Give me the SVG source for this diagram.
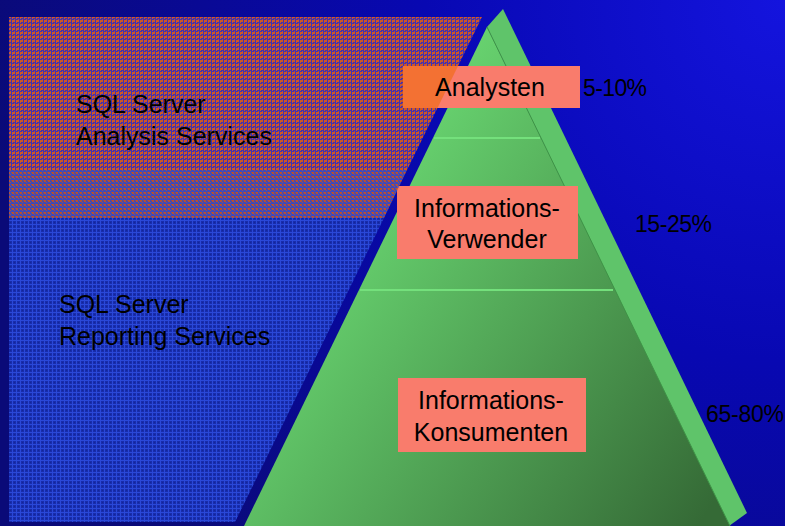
<svg xmlns="http://www.w3.org/2000/svg" width="785" height="526" viewBox="0 0 785 526">
<defs>
<radialGradient id="bg" cx="785" cy="0" r="800" gradientUnits="userSpaceOnUse">
<stop offset="0" stop-color="#1414de"/>
<stop offset="0.45" stop-color="#0808b2"/>
<stop offset="1" stop-color="#0a0a78"/>
</radialGradient>
<linearGradient id="front" x1="330" y1="200" x2="730" y2="480" gradientUnits="userSpaceOnUse">
<stop offset="0" stop-color="#6ad872"/>
<stop offset="1" stop-color="#356a36"/>
</linearGradient>
<pattern id="pOr" width="4" height="4" patternUnits="userSpaceOnUse">
<rect width="4" height="4" fill="#4430b0" shape-rendering="crispEdges"/>
<rect width="3" height="2" fill="#cc5628" shape-rendering="crispEdges"/>
<rect y="2" width="1" height="1" fill="#cc5628" shape-rendering="crispEdges"/>
<rect x="2" y="3" width="1" height="1" fill="#b85030" shape-rendering="crispEdges"/>
</pattern>
<pattern id="pMix" width="4" height="4" patternUnits="userSpaceOnUse">
<rect width="4" height="4" fill="#4450c0" shape-rendering="crispEdges"/>
<rect width="2" height="2" fill="#c8582c" shape-rendering="crispEdges"/>
<rect x="2" y="2" width="1" height="1" fill="#c0582e" shape-rendering="crispEdges"/>
<rect x="3" y="0" width="1" height="1" fill="#b05440" shape-rendering="crispEdges"/>
</pattern>
<pattern id="pBl" width="4" height="4" patternUnits="userSpaceOnUse">
<rect width="4" height="4" fill="#182cac" shape-rendering="crispEdges"/>
<rect width="4" height="1" fill="#2a48d8" shape-rendering="crispEdges"/>
<rect width="1" height="4" fill="#2a48d8" shape-rendering="crispEdges"/>
<rect x="2" y="2" width="1" height="1" fill="#12269a" shape-rendering="crispEdges"/>
</pattern>
<style>
.lbl{font-family:"Liberation Sans",Arial,sans-serif;font-size:25px;fill:#000}
.box{fill:#f97c6c}
.pct{font-family:"Liberation Sans",Arial,sans-serif;font-size:23px;fill:#000}
</style>
</defs>
<rect id="background" width="785" height="526" fill="url(#bg)"/>
<g id="pyramid">
<polygon points="487,27 503,9 747,513 729,526" fill="#5fc46a"/>
<polygon points="487,27 730,526 244,526" fill="url(#front)"/>
<line x1="487" y1="27" x2="730" y2="526" stroke="#3f9446" stroke-width="1"/>
<line x1="434" y1="138" x2="540" y2="138" stroke="#74e07c" stroke-width="2"/>
<line x1="360" y1="290" x2="613" y2="290" stroke="#74e07c" stroke-width="2"/>
</g>
<g id="node-verwender">
<rect class="box" x="397" y="186" width="181" height="73"/>
<text class="lbl" x="487" y="217" text-anchor="middle">Informations-</text>
<text class="lbl" x="487" y="248" text-anchor="middle">Verwender</text>
</g>
<g id="node-konsumenten">
<rect class="box" x="398" y="378" width="188" height="74"/>
<text class="lbl" x="491" y="409" text-anchor="middle">Informations-</text>
<text class="lbl" x="491" y="441" text-anchor="middle">Konsumenten</text>
</g>
<g id="services">
<polygon points="9,17 482,17 407,170 9,170" fill="url(#pOr)"/>
<polygon points="9,170 407,170 384,218 9,218" fill="url(#pMix)" opacity="0.9"/>
<polygon points="9,218 384,218 235,522 9,522" fill="url(#pBl)"/>
</g>
<g id="node-analysten">
<rect class="box" x="403" y="66" width="177" height="42"/>
<polygon points="403,66 458,66 437.5,108 403,108" fill="#f2702e" opacity="0.9"/>
<text class="lbl" x="490" y="96" text-anchor="middle">Analysten</text>
</g>
<g id="node-analysis">
<text class="lbl" x="76" y="113">SQL Server</text>
<text class="lbl" x="76" y="145">Analysis Services</text>
</g>
<g id="node-reporting">
<text class="lbl" x="59" y="313">SQL Server</text>
<text class="lbl" x="59" y="345">Reporting Services</text>
</g>
<g id="percentages">
<text class="pct" x="583" y="96" textLength="64">5-10%</text>
<text class="pct" x="635" y="232" textLength="77">15-25%</text>
<text class="pct" x="706" y="422" textLength="78">65-80%</text>
</g>
</svg>
